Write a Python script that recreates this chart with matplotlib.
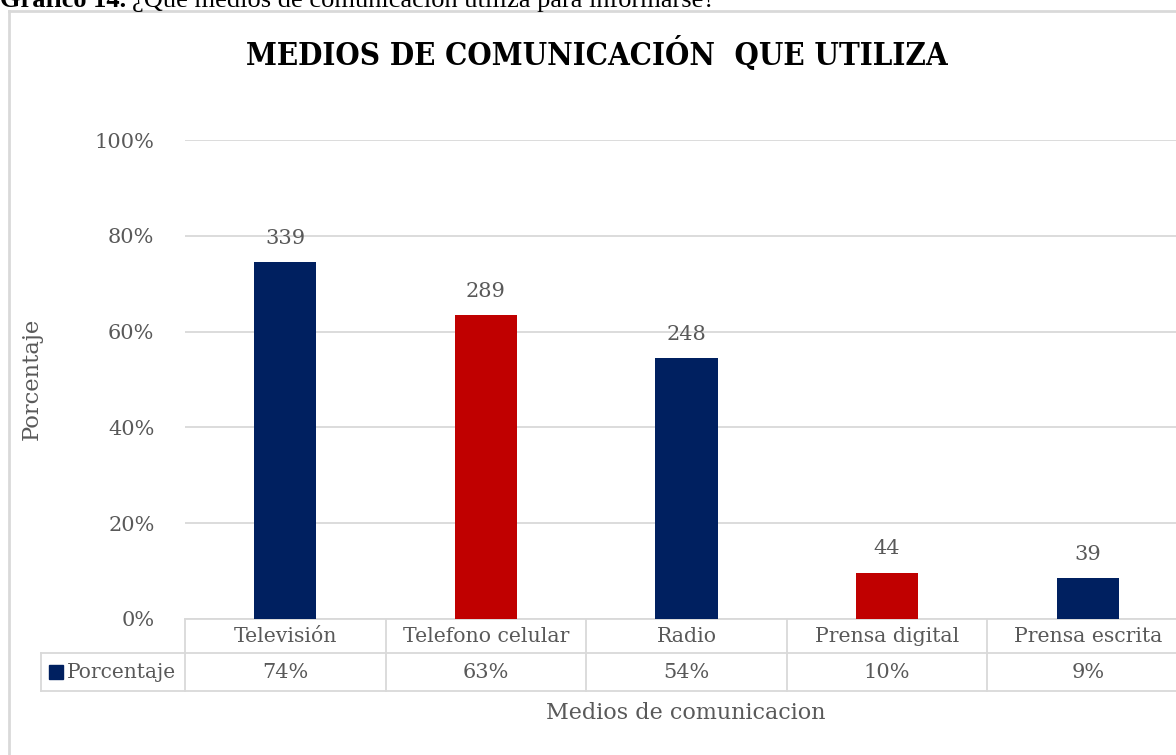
import matplotlib.pyplot as plt
from matplotlib.transforms import blended_transform_factory
from matplotlib.lines import Line2D

categories = ["Televisión", "Telefono celular", "Radio", "Prensa digital", "Prensa escrita"]
porcentaje = [0.745, 0.635, 0.545, 0.097, 0.086]
cantidad = [339, 289, 248, 44, 39]
tabla_pct = ["74%", "63%", "54%", "10%", "9%"]
colores = ["#002060", "#C00000", "#002060", "#C00000", "#002060"]
yticks = [0, 0.2, 0.4, 0.6, 0.8, 1.0]

W, H = 1176, 755
GRAY = "#595959"
GRID = "#D9D9D9"
SERIF = "DejaVu Serif"


def fy(px):
    # pixel row (from top) -> figure fraction
    return 1 - px / H


def fx(px):
    return px / W


def main():
    fig = plt.figure(figsize=(W / 100, H / 100), dpi=100)
    ax = fig.add_axes([fx(185), fy(619), fx(1188 - 185), fy(140) - fy(619)])

    xs = range(len(categories))
    ax.bar(xs, porcentaje, width=0.31, color=colores, zorder=3)
    for x, v, n in zip(xs, porcentaje, cantidad):
        ax.annotate(str(n), (x, v), xytext=(0, 17), textcoords="offset points",
                    ha="center", va="center", fontsize=15, color=GRAY, family=SERIF)

    ax.set_xlim(-0.5, len(categories) - 0.5)
    ax.set_ylim(0, 1)
    ax.set_yticks(yticks)
    ax.set_yticklabels(["%d%%" % round(t * 100) for t in yticks],
                       fontsize=15, color=GRAY, family=SERIF)
    ax.tick_params(axis="y", length=0, pad=22)
    ax.set_xticks([])
    ax.grid(axis="y", color=GRID, linewidth=1.3, zorder=0)
    for s in ["top", "right", "left"]:
        ax.spines[s].set_visible(False)
    ax.spines["bottom"].set_color(GRID)
    ax.spines["bottom"].set_linewidth(1.3)

    # data table below the plot
    tr = blended_transform_factory(ax.transData, fig.transFigure)
    n = len(categories)
    r0, r1, r2 = fy(619), fy(653), fy(691)
    for b in range(n + 1):
        fig.add_artist(Line2D([b - 0.5, b - 0.5], [r0, r2], transform=tr,
                              color=GRID, lw=1.3, clip_on=False))
    fig.add_artist(Line2D([fx(41), fx(1188)], [r1, r1], color=GRID, lw=1.3))
    fig.add_artist(Line2D([fx(41), fx(1188)], [r2, r2], color=GRID, lw=1.3))
    fig.add_artist(Line2D([fx(41), fx(41)], [r1, r2], color=GRID, lw=1.3))
    for x, c, p in zip(xs, categories, tabla_pct):
        fig.text(x, (r0 + r1) / 2, c, transform=tr, ha="center", va="center",
                 fontsize=14.7, color=GRAY, family=SERIF)
        fig.text(x, (r1 + r2) / 2, p, transform=tr, ha="center", va="center",
                 fontsize=15, color=GRAY, family=SERIF)
    fig.patches.append(plt.Rectangle((fx(49), fy(679)), fx(14), fy(665) - fy(679),
                                     color="#002060", transform=fig.transFigure))
    fig.text(fx(67), (r1 + r2) / 2, "Porcentaje", ha="left", va="center",
             fontsize=14.5, color=GRAY, family=SERIF)

    # axis titles and chart title
    fig.text(fx(32), fy(379), "Porcentaje", rotation=90, ha="center", va="center",
             fontsize=16.3, color=GRAY, family=SERIF)
    fig.text(fx(686), fy(713), "Medios de comunicacion", ha="center", va="center",
             fontsize=16, color=GRAY, family=SERIF)
    fig.text(fx(597), fy(54), "MEDIOS DE COMUNICACIÓN  QUE UTILIZA", ha="center",
             va="center", fontsize=22.4, fontweight="bold", fontstretch="condensed",
             color="black", family=SERIF)

    # chart border
    fig.add_artist(Line2D([fx(9), fx(9)], [fy(11), 0], color=GRID, lw=2))
    fig.add_artist(Line2D([fx(9), 1], [fy(11), fy(11)], color=GRID, lw=2))

    # caption above, cut by the top edge as in the source page
    t = fig.text(0, fy(7), "Gráfico 14.", ha="left", va="baseline", fontsize=19,
                 fontweight="bold", family="Liberation Serif")
    fig.canvas.draw()
    bb = t.get_window_extent()
    fig.text(bb.x1 / W + fx(6), fy(7), "¿Qué medios de comunicación utiliza para informarse?",
             ha="left", va="baseline", fontsize=19, family="Liberation Serif")

    fig.savefig("out.png", dpi=100)


if __name__ == "__main__":
    main()
